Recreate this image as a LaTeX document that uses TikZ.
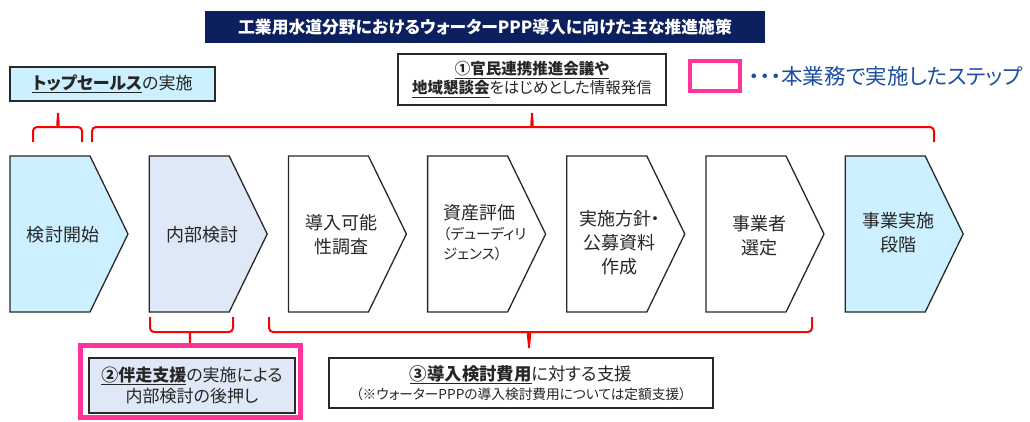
\documentclass[tikz,border=0pt]{standalone}
\usepackage{fontspec}
\setmainfont{Noto Sans CJK JP}[RawFeature=+palt]
\definecolor{navy}{RGB}{12,31,94}
\definecolor{cyanfill}{RGB}{204,240,255}
\definecolor{bluefill}{RGB}{222,232,246}
\definecolor{hotpink}{RGB}{255,51,153}
\definecolor{legblue}{RGB}{31,78,160}
\definecolor{bracered}{RGB}{255,0,0}
\definecolor{edge}{RGB}{40,40,40}
\definecolor{txt}{RGB}{38,38,38}
\newcommand\fs[2]{\fontsize{#1pt}{#2pt}\selectfont}
\newcommand\ul[1]{\underline{\textbf{#1}}}
\tikzset{
  chevline/.style={draw=edge,line width=1.3pt,line join=miter},
  chevtext/.style={text=txt,align=center,inner sep=0pt,font=\fs{18}{24}},
  box/.style={draw=edge,line width=1.3pt,inner sep=0pt,align=center,text=txt},
  brace/.style={draw=bracered,line width=2pt,rounded corners=4pt},
}
\newcommand\mychev[5]{%
  \draw[chevline,fill=#3] (#2,156) -- (#2+80,156) -- (#2+118,234) -- (#2+80,312) -- (#2,312) -- cycle;
  \node[chevtext] (#1) at (#2+53,#4) {#5};}
\begin{document}
\begin{tikzpicture}[x=1pt,y=-1pt]
\useasboundingbox (0,0) rectangle (1030,421);
% title
\node[fill=navy,minimum width=560pt,minimum height=32pt,inner sep=0pt,text=white,font=\fs{16.8}{18}\bfseries] (title) at (485,27) {工業用水道分野におけるウォーターPPP導入に向けた主な推進施策};
% top boxes
\node[box,fill=cyanfill,minimum width=205pt,minimum height=34pt,font=\fs{17}{20}] (top) at (112.5,84) {\ul{トップセールス}の実施};
\node[box,fill=white,minimum width=268pt,minimum height=51pt,font=\fs{15.5}{19}] (info) at (532,79.5) {\ul{①官民連携推進会議や}\\\ul{地域懇談会}をはじめとした情報発信};
% legend
\node[draw=hotpink,line width=4pt,minimum width=50pt,minimum height=30pt,inner sep=0pt] (legbox) at (715,76) {};
\node[anchor=west,text=legblue,inner sep=0pt,font=\fs{21.5}{23}] (legtext) at (749,76) {・・・本業務で実施したステップ};
% chevrons
\mychev{c1}{10}{cyanfill}{235}{検討開始}
\mychev{c2}{149.2}{bluefill}{235}{内部検討}
\mychev{c3}{288.4}{white}{234.5}{導入可能\\性調査}
\draw[chevline,fill=white] (427.6,156) -- (507.6,156) -- (545.6,234) -- (507.6,312) -- (427.6,312) -- cycle;
\node[chevtext,align=left,anchor=north west,font=\fs{18}{20}] (c4) at (443,204) {資産評価\\\fs{14.5}{19}（デューディリ\\\fs{14.5}{19}ジェンス）};
\mychev{c5}{566.8}{white}{243}{実施方針・\\公募資料\\作成}
\mychev{c6}{706}{white}{236}{事業者\\選定}
\mychev{c7}{845.2}{cyanfill}{232.5}{事業実施\\段階}
% top braces
\draw[brace] (33,142) |- (54,127) to[out=0,in=-90] (58,113);
\draw[brace] (58,113) to[out=-90,in=180] (62,127) -| (82,142);
\draw[brace] (92,142) |- (528,127) to[out=0,in=-90] (532,113);
\draw[brace] (532,113) to[out=-90,in=180] (536,127) -| (934,142);
% bottom braces
\draw[brace] (150,317) |- (186,332) to[out=0,in=90] (190,343);
\draw[brace] (190,343) to[out=90,in=180] (194,332) -| (233,317);
\draw[brace] (269,317) |- (525,332) to[out=0,in=90] (529,348);
\draw[brace] (529,348) to[out=90,in=180] (533,332) -| (812,317);
% bottom boxes
\node[draw=hotpink,line width=5pt,minimum width=220pt,minimum height=72pt,inner sep=0pt] (pink) at (190.5,381.5) {};
\node[box,fill=bluefill,minimum width=206pt,minimum height=55pt,font=\fs{17}{21}] (support) at (192,385.5) {\ul{②伴走支援}の実施による\\内部検討の後押し};
\node[box,fill=white,minimum width=384pt,minimum height=50pt,font=\fs{17.4}{19}] (cost) at (521,383) {\ul{③導入検討費用}に対する支援\\\fs{13.7}{16}（※ウォーターPPPの導入検討費用については定額支援）};
\end{tikzpicture}
\end{document}
